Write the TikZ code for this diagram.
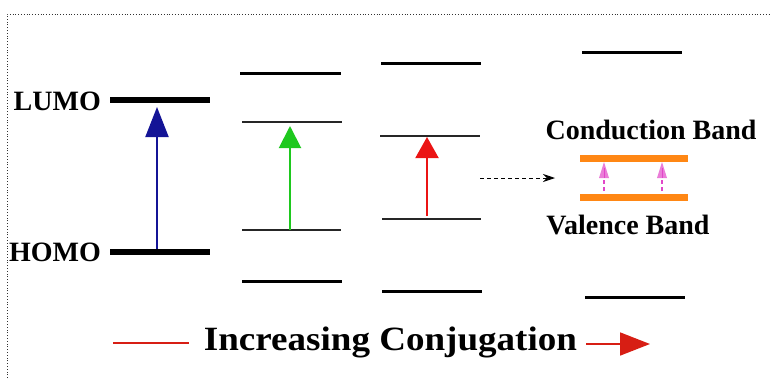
\documentclass[tikz,border=0pt]{standalone}
\usepackage{fontspec}
\setmainfont{Liberation Serif}
\usetikzlibrary{arrows.meta}
\definecolor{navyarrow}{RGB}{20,20,150}
\definecolor{greenarrow}{RGB}{30,200,30}
\definecolor{redarrow}{RGB}{235,20,20}
\definecolor{bandorange}{RGB}{255,135,20}
\definecolor{pinkarrow}{RGB}{225,70,200}
\definecolor{conjred}{RGB}{215,30,20}
\tikzset{
  thicklevel/.style={line width=6pt},
  boldlevel/.style={line width=3pt},
  thinlevel/.style={line width=1.6pt, black!85},
  band/.style={line width=7pt, bandorange},
  label/.style={font=\fontsize{28}{30}\selectfont\bfseries, inner sep=0pt},
  transition/.style={line width=2pt},
}
\begin{document}
\begin{tikzpicture}[x=1pt,y=-1pt]
\useasboundingbox (0,0) rectangle (771,378);
% dotted frame
\draw[dotted, line width=0.8pt, black!80] (7,378) -- (7,14) -- (771,14);

% HOMO / LUMO column
\coordinate (l1a) at (110,100); \coordinate (l1b) at (210,100);
\coordinate (h1a) at (110,252); \coordinate (h1b) at (210,252);
\draw[thicklevel] (l1a) -- (l1b);
\draw[thicklevel] (h1a) -- (h1b);
\node[label, anchor=east] (lumo) at (101,101) {LUMO};
\node[label, anchor=east] (homo) at (101,252) {HOMO};
\coordinate (b0) at (157,249); \coordinate (b1) at (157,107);
\draw[transition, navyarrow, -{Triangle[width=23pt,length=30pt]}] (b0) -- (b1);

% second column
\draw[boldlevel] (240,73) -- (341,73);
\draw[thinlevel] (242,122) -- (342,122);
\draw[thinlevel] (242,230) -- (341,230);
\draw[boldlevel] (242,281) -- (342,281);
\coordinate (g0) at (290,230); \coordinate (g1) at (290,126);
\draw[transition, greenarrow, -{Triangle[width=22pt,length=22pt]}] (g0) -- (g1);

% third column
\draw[boldlevel] (381,63) -- (481,63);
\draw[thinlevel] (380,136) -- (480,136);
\draw[thinlevel] (382,219) -- (481,219);
\draw[boldlevel] (382,291) -- (482,291);
\coordinate (r0) at (427,216); \coordinate (r1) at (427,137);
\draw[transition, redarrow, -{Triangle[width=23pt,length=21pt]}] (r0) -- (r1);

% dashed link to the band picture
\coordinate (d0) at (480,178); \coordinate (d1) at (555,178);
\draw[dashed, line width=0.9pt, dash pattern=on 4pt off 3pt, -{Stealth[width=8pt,length=12pt]}] (d0) -- (d1);

% band picture
\draw[boldlevel] (582,52) -- (682,52);
\draw[boldlevel] (585,297) -- (685,297);
\draw[band] (580,158) -- (688,158);
\draw[band] (580,197) -- (688,197);
\node[label] (cb) at (651,130) {Conduction Band};
\node[label] (vb) at (628,225) {Valence Band};
\foreach \x in {604,662}{
  \draw[pinkarrow, line width=1.6pt, dash pattern=on 4pt off 3pt] (\x,191) -- (\x,175);
  \fill[pinkarrow!70] (\x,162) -- (\x-5,178) -- (\x+5,178) -- cycle;
  \draw[pinkarrow, line width=1pt] (\x,168) -- (\x,178);
}

% increasing conjugation
\node[font=\fontsize{34}{36}\selectfont\bfseries, inner sep=0pt, anchor=base, xscale=1.09] (conj) at (390.5,350) {Increasing Conjugation};
\coordinate (c0) at (113,343); \coordinate (c1) at (189,343);
\draw[conjred, line width=1.8pt] (c0) -- (c1);
\coordinate (c2) at (586,344); \coordinate (c3) at (650,344);
\draw[conjred, line width=1.8pt, -{Triangle[width=23pt,length=30pt]}] (c2) -- (c3);
\end{tikzpicture}
\end{document}
